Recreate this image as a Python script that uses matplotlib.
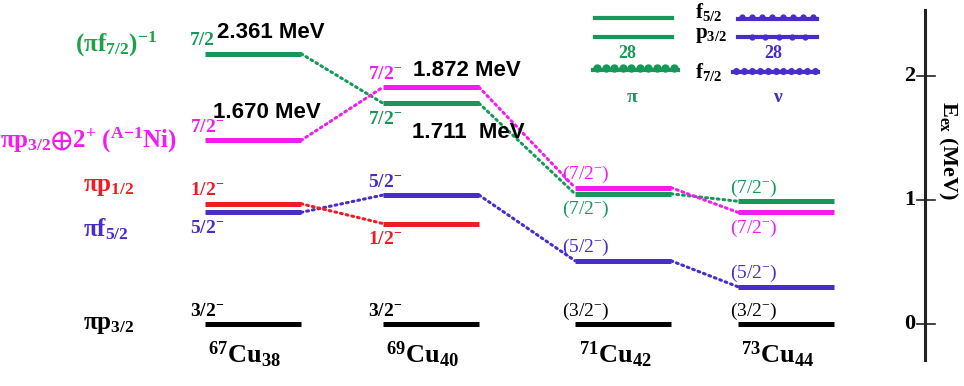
import numpy as np
import matplotlib.pyplot as plt

plt.rcParams['font.family'] = 'Liberation Serif'
plt.rcParams['font.weight'] = 'bold'
plt.rcParams['mathtext.default'] = 'regular'

# isotopes (columns)
nuclei = [r"$^{67}$Cu$_{38}$", r"$^{69}$Cu$_{40}$", r"$^{71}$Cu$_{42}$", r"$^{73}$Cu$_{44}$"]

# level energies in MeV read off the scheme (nan = level not drawn)
e_p32 = [0.0, 0.0, 0.0, 0.0]
e_f52 = [0.90, 1.04, 0.51, 0.30]
e_p12 = [0.97, 0.81, np.nan, np.nan]
e_f72 = [2.18, 1.78, 1.05, 0.99]
e_core = [1.48, 1.91, 1.10, 0.90]

spin_p32 = ["3/2$^{-}$", "3/2$^{-}$", "(3/2$^{-}$)", "(3/2$^{-}$)"]
spin_f52 = ["5/2$^{-}$", "5/2$^{-}$", "(5/2$^{-}$)", "(5/2$^{-}$)"]
spin_p12 = ["1/2$^{-}$", "1/2$^{-}$", "", ""]
spin_f72 = ["7/2", "7/2$^{-}$", "(7/2$^{-}$)", "(7/2$^{-}$)"]
spin_core = ["7/2$^{-}$", "7/2$^{-}$", "(7/2$^{-}$)", "(7/2$^{-}$)"]

# which side of the bar the spin label goes (1 above, -1 below)
side_p32 = [1, 1, 1, 1]
side_f52 = [-1, 1, 1, 1]
side_p12 = [1, -1, 0, 0]
side_f72 = [1, -1, -1, 1]
side_core = [1, 1, 1, -1]

state_names = [r"$\pi$p$_{3/2}$", r"$\pi$f$_{5/2}$", r"$\pi$p$_{1/2}$",
               r"($\pi$f$_{7/2}$)$^{-1}$", r"$\pi$p$_{3/2}$$\oplus$2$^{+}$ ($^{A{-}1}$Ni)"]
mev_labels = ["2.361 MeV", "1.670 MeV", "1.872 MeV", "1.711  MeV"]
e_ticks = [0, 1, 2]

green = '#16985a'
magenta = '#f21cf0'
red = '#ee1c24'
blue = '#4a2cc8'

levels = [
    (e_p32, spin_p32, side_p32, 'black', False),
    (e_f52, spin_f52, side_f52, blue, True),
    (e_p12, spin_p12, side_p12, red, True),
    (e_f72, spin_f72, side_f72, green, True),
    (e_core, spin_core, side_core, magenta, True),
]

# layout (pixels)
col_x0 = [205, 383, 575, 738]
label_dx = [-15, -15, -13, -8]
bar_w = 96
px_per_mev = 124.0
y0_px = 324


def py2e(py):
    return (y0_px - py) / px_per_mev


fig = plt.figure(figsize=(9.64, 3.86), dpi=100)
ax = fig.add_axes([0, 0, 1, 1])
ax.set_xlim(0, 964)
ax.set_ylim(py2e(386), py2e(0))
ax.axis('off')

pt = 0.72  # points per pixel
for ens, spins, sides, col, connect in levels:
    for i, e in enumerate(ens):
        if np.isnan(e):
            continue
        ax.plot([col_x0[i], col_x0[i] + bar_w], [e, e], color=col, lw=3.6,
                solid_capstyle='butt', zorder=3)
        if sides[i] != 0:
            dy = 13 if sides[i] > 0 else -16
            fw = 'bold' if i < 2 else 'normal'
            ax.annotate(spins[i], (col_x0[i], e), xytext=(label_dx[i] * pt, dy * pt),
                        textcoords='offset points', ha='left', va='center',
                        color=col, fontsize=14, fontweight=fw, zorder=4)
        if connect and i < 3 and not np.isnan(ens[i + 1]):
            ax.plot([col_x0[i] + bar_w, col_x0[i + 1]], [e, ens[i + 1]],
                    color=col, lw=2.2, ls=(0, (0.6, 1.3)),
                    dash_capstyle='round', zorder=2)

# state labels on the left
state_e = [e_p32[0], e_f52[0], e_p12[0], e_f72[0], e_core[0]]
state_x = [83, 83, 83, 75, 0]
state_dy = [0, -17, 17, 9, 0]
state_col = ['black', blue, red, '#1fa04a', magenta]
for name, e, x, dy, c in zip(state_names, state_e, state_x, state_dy, state_col):
    ax.annotate(name, (x, e), xytext=(0, dy * pt), textcoords='offset points',
                ha='left', va='center', color=c, fontsize=18)

# energies of the quoted levels
mev_e = [e_f72[0], e_core[0], e_core[1], e_f72[1]]
mev_x = [col_x0[0] + 12, col_x0[0] + 8, col_x0[1] + 30, col_x0[1] + 29]
mev_dy = [21, 28, 17, -29]
for t, e, x, dy in zip(mev_labels, mev_e, mev_x, mev_dy):
    ax.annotate(t, (x, e), xytext=(0, dy * pt), textcoords='offset points',
                ha='left', va='center', fontsize=16, fontweight='bold',
                family='Liberation Sans', zorder=5)

# isotope names
for i, name in enumerate(nuclei):
    ax.text(col_x0[i] + bar_w / 2 - 8, py2e(355), name, ha='center', va='center',
            fontsize=19)

# energy axis on the right
ax.plot([925, 925], [py2e(360), py2e(10)], color='#222222', lw=2.2)
for t in e_ticks:
    ax.plot([917, 935], [t, t], color='#222222', lw=1.2)
    ax.text(915, t, str(t), ha='right', va='center', fontsize=16)
ax.text(948, py2e(150), r"E$_{ex}$ (MeV)", rotation=270, ha='center', va='center',
        fontsize=16)

# shell-occupation sketch (top)
ax.plot([595, 672], [py2e(18)] * 2, color=green, lw=3)
ax.plot([595, 672], [py2e(37)] * 2, color=green, lw=3)
ax.plot([593, 678], [py2e(70)] * 2, color=green, lw=3)
ax.plot(np.linspace(597, 674, 10), [py2e(68)] * 10, 'o', color=green, ms=5)
ax.text(627, py2e(54), "28", color=green, ha='center', va='center', fontsize=13)
ax.text(632, py2e(98), "π", color=green, ha='center', va='center', fontsize=14)

ax.plot([738, 817], [py2e(19)] * 2, color=blue, lw=3)
ax.plot(np.linspace(742, 813, 8), [py2e(17)] * 8, 'o', color=blue, ms=3.5)
ax.plot([738, 817], [py2e(37)] * 2, color=blue, lw=3)
ax.plot(np.linspace(752, 805, 5), [py2e(37)] * 5, 'o', color=blue, ms=3.5)
ax.plot([733, 818], [py2e(72)] * 2, color=blue, lw=3)
ax.plot(np.linspace(736, 815, 11), [py2e(71)] * 11, 'o', color=blue, ms=4)
ax.text(773, py2e(54), "28", color=blue, ha='center', va='center', fontsize=13)
ax.text(777, py2e(98), "ν", color=blue, ha='center', va='center', fontsize=14)

ax.text(695, py2e(12), r"f$_{5/2}$", ha='left', va='center', fontsize=15)
ax.text(695, py2e(35), r"p$_{3/2}$", ha='left', va='center', fontsize=15)
ax.text(695, py2e(72), r"f$_{7/2}$", ha='left', va='center', fontsize=15)

fig.savefig("out.png", dpi=100)
